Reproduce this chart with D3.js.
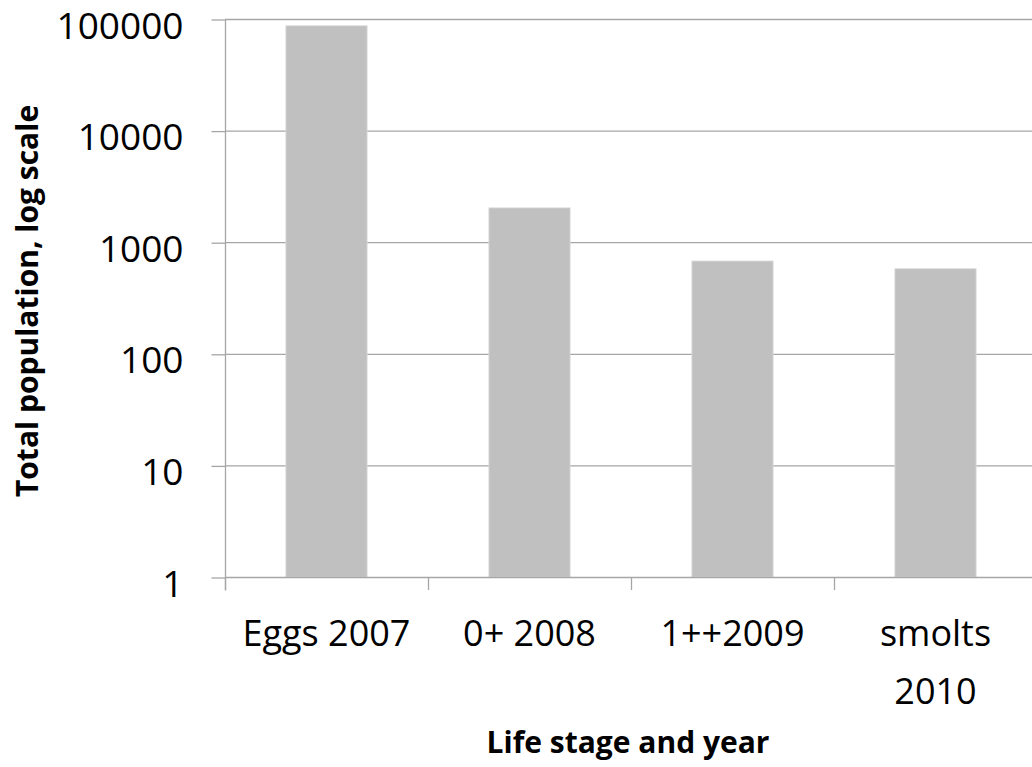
<!DOCTYPE html>
<html>
<head>
<meta charset="utf-8">
<script src="https://cdn.jsdelivr.net/npm/d3@7"></script>
<style>
  html, body { margin: 0; padding: 0; background: #fff; }
  svg { display: block; }
  text { font-family: "Open Sans", sans-serif; fill: #000; }
</style>
</head>
<body>
<svg id="chart" width="1032" height="767"></svg>
<script>
const categories = [["Eggs 2007"], ["0+ 2008"], ["1++2009"], ["smolts", "2010"]];
const values = [86900, 2030, 678, 578];
const yTicks = [1, 10, 100, 1000, 10000, 100000];
const yTitle = "Total population, log scale";
const xTitle = "Life stage and year";

const svg = d3.select("#chart");
const mLeft = 225, mRight = 1037, mTop = 19, mBottom = 577;
const keys = categories.map(c => c.join(" "));

const x = d3.scaleBand().domain(keys).range([mLeft, mRight]).paddingInner(0.6).paddingOuter(0.3);
const xb = d3.scaleBand().domain(keys).range([mLeft, mRight]);
const y = d3.scaleLog().domain([1, 100000]).range([mBottom, mTop]);

const gridColor = "#a6a6a6";

// gridlines
svg.append("g").selectAll("line").data(yTicks.slice(1)).join("line")
  .attr("x1", mLeft).attr("x2", mRight)
  .attr("y1", d => y(d) + 0.5).attr("y2", d => y(d) + 0.5)
  .attr("stroke", gridColor).attr("stroke-width", 1.3);

// bars
svg.append("g").selectAll("rect").data(values).join("rect")
  .attr("x", (d, i) => x(keys[i]))
  .attr("width", x.bandwidth())
  .attr("y", d => y(d))
  .attr("height", d => y(1) - y(d))
  .attr("fill", "#c0c0c0")
  .attr("stroke", "#d9d9d9").attr("stroke-width", 0.8);

// y axis
const yAxis = d3.axisLeft(y).tickValues(yTicks).tickFormat(d3.format("d")).tickSize(14).tickPadding(28);
const gy = svg.append("g").attr("transform", `translate(${mLeft + 0.5},0.5)`).call(yAxis);
gy.select(".domain").attr("stroke", gridColor).attr("stroke-width", 1.3).attr("d", `M0,${mTop}V${mBottom + 13}`);
gy.selectAll(".tick line").attr("stroke", gridColor).attr("stroke-width", 1.3);
gy.selectAll(".tick text").attr("font-size", 37).attr("font-family", "Open Sans").attr("dy", "0.5em");

// x axis baseline + ticks at band boundaries
svg.append("line").attr("x1", mLeft).attr("x2", mRight).attr("y1", mBottom + 0.5).attr("y2", mBottom + 0.5)
  .attr("stroke", gridColor).attr("stroke-width", 1.3);
const bounds = keys.map(k => xb(k)).concat([xb.range()[1]]);
svg.append("g").selectAll("line").data(bounds).join("line")
  .attr("x1", d => d + 0.5).attr("x2", d => d + 0.5)
  .attr("y1", mBottom).attr("y2", mBottom + 13)
  .attr("stroke", gridColor).attr("stroke-width", 1.3);

// category labels
const cl = svg.append("g").selectAll("text").data(categories).join("text")
  .attr("x", (d, i) => xb(keys[i]) + xb.bandwidth() / 2)
  .attr("y", 646)
  .attr("text-anchor", "middle")
  .attr("font-size", 36);
cl.selectAll("tspan").data(d => d).join("tspan")
  .attr("x", function () { return d3.select(this.parentNode).attr("x"); })
  .attr("dy", (d, i) => i === 0 ? 0 : 58)
  .text(d => d);

// axis titles
svg.append("text")
  .attr("transform", `translate(38,${301}) rotate(-90)`)
  .attr("text-anchor", "middle")
  .attr("font-weight", "bold")
  .attr("font-size", 30)
  .text(yTitle);

svg.append("text")
  .attr("x", 628).attr("y", 753)
  .attr("text-anchor", "middle")
  .attr("font-weight", "bold")
  .attr("font-size", 30)
  .text(xTitle);
</script>
</body>
</html>
